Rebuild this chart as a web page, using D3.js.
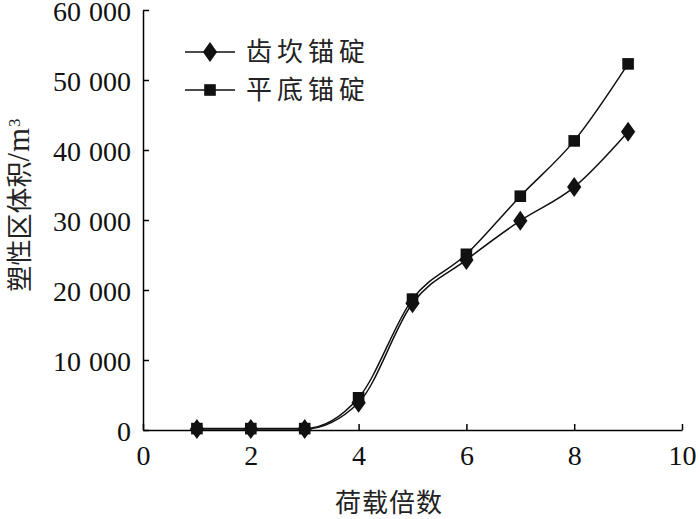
<!DOCTYPE html>
<html><head><meta charset="utf-8">
<script src="https://cdn.jsdelivr.net/npm/d3@7"></script>
<style>body{margin:0;background:#fff}svg{display:block}
.num{font-family:"Liberation Serif","Times New Roman","Tinos","DejaVu Serif",serif}
.cjk{font-family:"Noto Sans CJK SC","Noto Sans CJK JP",sans-serif}
</style>
</head><body><svg id="c" width="700" height="519"></svg>
<script>
const loads = [1,2,3,4,5,6,7,8,9];
const seriesNames = ["齿坎锚碇","平底锚碇"];
const toothed = [150,150,150,3900,18100,24300,29900,34700,42600];
const flat = [200,200,200,4600,18700,25100,33400,41300,52300];
const xTicks = [0,2,4,6,8,10];
const yTicks = [0,10000,20000,30000,40000,50000,60000];
const yTickLabels = ["0","10 000","20 000","30 000","40 000","50 000","60 000"];

const svg = d3.select("#c");
const x = d3.scaleLinear().domain([0,10]).range([143,682]);
const y = d3.scaleLinear().domain([0,60000]).range([430,10]);

const xa = svg.append("g").attr("transform","translate(0,430)")
  .call(d3.axisBottom(x).tickValues(xTicks).tickSizeInner(-6).tickSizeOuter(0).tickPadding(11));
const ya = svg.append("g").attr("transform","translate(143,0)")
  .call(d3.axisLeft(y).tickValues(yTicks).tickFormat((d,i)=>yTickLabels[i]).tickSizeInner(-6).tickSizeOuter(0).tickPadding(12));
[xa,ya].forEach(g=>{
  g.attr("font-family",null).attr("font-size",null);
  g.select(".domain").attr("stroke","#000").attr("stroke-width",1.5);
  g.selectAll(".tick line").attr("stroke","#000").attr("stroke-width",1.5);
  g.selectAll(".tick text").attr("class","num").attr("font-family","Liberation Serif").attr("fill","#111").style("font-size","28px");
});
xa.selectAll(".tick text").attr("dy","0.85em");
ya.selectAll(".tick text").attr("dy","0.38em").style("word-spacing","1px");

const line = d3.line().x((d,i)=>x(loads[i])).y(d=>y(d)).curve(d3.curveMonotoneX);
const data = [toothed, flat];
const shapes = [d3.symbolDiamond, d3.symbolSquare];
const sizes = [160, 135];
data.forEach((s,k)=>{
  svg.append("path").attr("d",line(s)).attr("fill","none").attr("stroke","#111").attr("stroke-width",1.5);
});
data.forEach((s,k)=>{
  svg.append("g").selectAll("path").data(s).join("path")
    .attr("transform",(d,i)=>`translate(${x(loads[i])},${y(d)})${k===0?" scale(1.05,0.85)":""}`)
    .attr("d",d3.symbol().type(shapes[k]).size(sizes[k])).attr("fill","#111");
});

// legend
seriesNames.forEach((n,k)=>{
  const ly = 52 + k*38;
  svg.append("line").attr("x1",185).attr("x2",235).attr("y1",ly).attr("y2",ly).attr("stroke","#111").attr("stroke-width",1.5);
  svg.append("path").attr("transform",`translate(210,${ly})${k===0?" scale(1.05,0.85)":""}`)
    .attr("d",d3.symbol().type(shapes[k]).size(sizes[k])).attr("fill","#111");
  svg.append("text").attr("class","cjk").attr("x",246).attr("y",ly).attr("dy","0.36em").text(n)
    .style("font-size","26px").style("letter-spacing","5px").attr("fill","#222");
});

// axis titles
svg.append("text").attr("class","cjk").attr("x",389).attr("y",503).attr("dy","0.36em").attr("text-anchor","middle").text("荷载倍数")
  .style("font-size","26px").style("letter-spacing","1px").attr("fill","#222");
const yt = svg.append("text").attr("class","cjk").attr("transform","translate(20,205) rotate(-90)").attr("dy","0.36em").attr("text-anchor","middle")
  .style("font-size","26px").attr("fill","#222");
yt.append("tspan").text("塑性区体积");
yt.append("tspan").text("/m").attr("class","num").style("font-size","31px").style("letter-spacing","1px");
yt.append("tspan").text("3").attr("class","num").attr("dy","-0.55em").style("font-size","17px");
</script></body></html>
